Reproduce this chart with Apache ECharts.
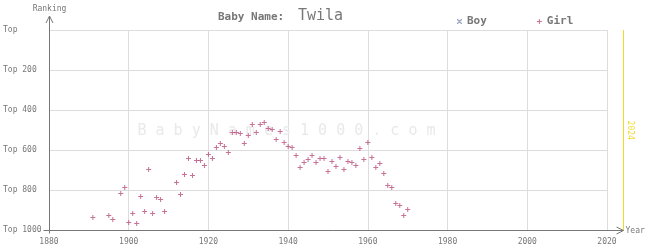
<!DOCTYPE html>
<html><head><meta charset="utf-8">
<script src="https://cdn.jsdelivr.net/npm/echarts/dist/echarts.min.js"></script>
<style>html,body{margin:0;padding:0;background:#fff}#c{width:645px;height:250px}</style>
</head><body><div id="c"></div>
<script>
// ---- data ----
const babyName = 'Twila';
const girlYears = [1891,1895,1896,1898,1899,1900,1901,1902,1903,1904,1905,1906,1907,1908,1909,
  1912,1913,1914,1915,1916,1917,1918,1919,1920,1921,1922,1923,1924,1925,1926,1927,1928,1929,
  1930,1931,1932,1933,1934,1935,1936,1937,1938,1939,1940,1941,1942,1943,1944,1945,1946,1947,
  1948,1949,1950,1951,1952,1953,1954,1955,1956,1957,1958,1959,1960,1961,1962,1963,1964,1965,
  1966,1967,1968,1969,1970];
const girlRanks = [937,927,947,817,787,962,917,967,832,907,697,917,837,847,907,
  762,822,722,642,727,652,652,677,622,642,587,567,582,612,512,512,517,567,
  527,472,512,472,462,492,497,547,507,562,582,587,627,687,662,647,627,662,
  642,642,707,657,682,637,697,657,662,677,592,647,562,637,687,667,717,777,
  787,867,877,927,897];
const boyYears = [];
const boyRanks = [];
const yearTicks = [1880, 1900, 1920, 1940, 1960, 1980, 2000, 2020];
const rankTicks = [0, 200, 400, 600, 800, 1000];
const rankTickLabels = ['Top', 'Top 200', 'Top 400', 'Top 600', 'Top 800', 'Top 1000'];
const currentYear = 2024;

// ---- chart ----
const MONO = 'DejaVu Sans Mono, monospace';
const GRAY = '#777';
const GIRL_COLOR = '#b94d7c';
const BOY_COLOR = '#8a96b8';
const PLUS = 'path://M2,0H3V5H2ZM0,2H5V3H0Z';
const CROSS = 'path://M0,0L1,0L5,4L5,5L4,5L0,1ZM4,0L5,0L5,1L1,5L0,5L0,4Z';

const chart = echarts.init(document.getElementById('c'), null, {renderer: 'canvas'});
chart.setOption({
  animation: false,
  grid: {left: 47, top: 30, right: 38, bottom: 20, containLabel: false},
  xAxis: {
    type: 'value', min: yearTicks[0], max: yearTicks[yearTicks.length - 1], interval: 20,
    axisLine: {show: false}, axisTick: {show: false},
    axisLabel: {formatter: v => String(v), color: GRAY, fontFamily: MONO, fontSize: 8, margin: 8},
    splitLine: {show: true, lineStyle: {color: '#dddddd', width: 1}}
  },
  yAxis: {
    type: 'value', inverse: true, min: rankTicks[0], max: rankTicks[rankTicks.length - 1], interval: 200,
    axisLine: {show: false}, axisTick: {show: false},
    axisLabel: {formatter: v => rankTickLabels[rankTicks.indexOf(v)], color: GRAY, fontFamily: MONO,
      fontSize: 8, align: 'left', margin: 46},
    splitLine: {show: true, lineStyle: {color: '#dddddd', width: 1}}
  },
  legend: {
    data: [{name: 'Boy', icon: CROSS}, {name: 'Girl', icon: PLUS}],
    left: 452, top: 11, itemWidth: 5, itemHeight: 5, itemGap: 50,
    textStyle: {color: GRAY, fontFamily: MONO, fontSize: 11, fontWeight: 'bold'}
  },
  series: [
    {name: 'Boy', type: 'scatter', symbol: CROSS, symbolSize: 5, itemStyle: {color: BOY_COLOR},
      data: boyYears.map((y, i) => [y, boyRanks[i]])},
    {name: 'Girl', type: 'scatter', symbol: PLUS, symbolSize: 5, itemStyle: {color: GIRL_COLOR}, z: 5,
      data: girlYears.map((y, i) => [y, girlRanks[i]])}
  ]
});

function decorate() {
  const o = chart.convertToPixel({gridIndex: 0}, [yearTicks[0], rankTicks[rankTicks.length - 1]]);
  const t = chart.convertToPixel({gridIndex: 0}, [yearTicks[0], rankTicks[0]]);
  const m = chart.convertToPixel({gridIndex: 0}, [currentYear, rankTicks[0]]);
  const ox = Math.round(o[0]) + 0.5, oy = Math.round(o[1]) + 0.5;
  const mx = Math.round(m[0]) + 0.5, ty = Math.round(t[1]);
  const lineStyle = {stroke: GRAY, lineWidth: 1, fill: null};
  chart.setOption({
    graphic: [
      {type: 'text', z: 0, silent: true, x: ox + 237, y: (ty + oy) / 2 + 1,
        style: {text: 'B a b y N a m e s 1 0 0 0 . c o m', fill: '#e9e9e9', font: '15px ' + MONO,
          textAlign: 'center', textVerticalAlign: 'middle'}},
      {type: 'text', x: 218, y: 17, style: {text: 'Baby Name:', fill: GRAY,
        font: 'bold 11px ' + MONO, textVerticalAlign: 'middle'}},
      {type: 'text', x: 298, y: 16, style: {text: babyName, fill: GRAY,
        font: '15px ' + MONO, textVerticalAlign: 'middle'}},
      // y axis with arrow
      {type: 'polyline', z: 10, shape: {points: [[ox, oy + 3], [ox, ty - 14]]}, style: lineStyle},
      {type: 'polyline', z: 10, shape: {points: [[ox - 3.5, ty - 7], [ox, ty - 14], [ox + 3.5, ty - 7]]}, style: lineStyle},
      {type: 'text', x: ox, y: 9, style: {text: 'Ranking', fill: GRAY, font: '8px ' + MONO,
        textAlign: 'center', textVerticalAlign: 'middle'}},
      // x axis with arrow
      {type: 'polyline', z: 10, shape: {points: [[ox - 6, oy], [mx, oy]]}, style: lineStyle},
      {type: 'polyline', z: 10, shape: {points: [[mx - 7, oy - 3.5], [mx, oy], [mx - 7, oy + 3.5]]}, style: lineStyle},
      {type: 'text', x: mx + 2, y: oy, style: {text: 'Year', fill: GRAY, font: '8px ' + MONO,
        textVerticalAlign: 'middle'}},
      // current year marker
      {type: 'line', z: 9, shape: {x1: mx, y1: ty, x2: mx, y2: oy - 0.5},
        style: {stroke: '#f3d827', lineWidth: 1}},
      {type: 'text', x: mx + 7, y: (ty + oy) / 2, rotation: -Math.PI / 2,
        style: {text: String(currentYear), fill: '#f3d827', font: '8px ' + MONO,
          textAlign: 'center', textVerticalAlign: 'middle'}}
    ]
  });
}
decorate();
</script>
</body></html>
